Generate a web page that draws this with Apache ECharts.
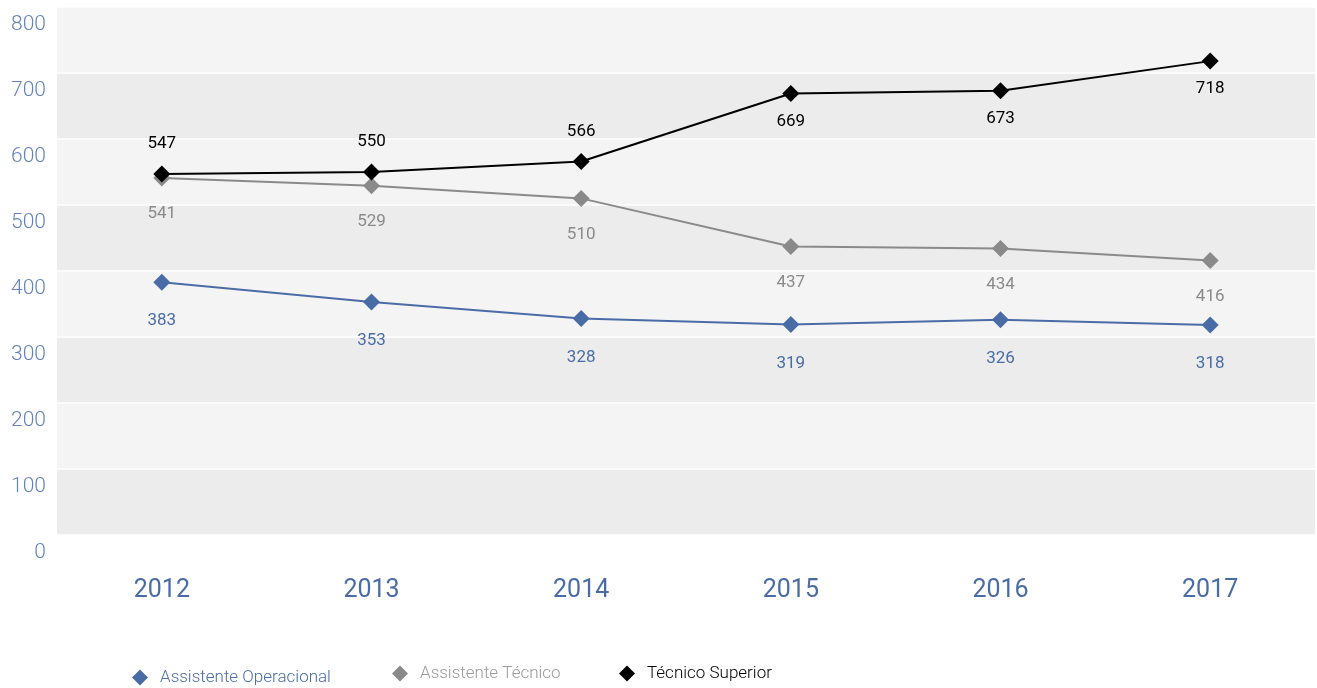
<!DOCTYPE html>
<html>
<head>
<meta charset="utf-8">
<script src="https://cdn.jsdelivr.net/npm/echarts@6/dist/echarts.min.js"></script>
<style>
  html, body { margin: 0; padding: 0; background: #ffffff; }
  #chart { width: 1317px; height: 688px; }
</style>
</head>
<body>
<div id="chart"></div>
<script>
// Years on the category axis
const years = ['2012', '2013', '2014', '2015', '2016', '2017'];

// Headcount per career group
const assistenteOperacional = [383, 353, 328, 319, 326, 318];
const assistenteTecnico = [541, 529, 510, 437, 434, 416];
const tecnicoSuperior = [547, 550, 566, 669, 673, 718];

// Value axis range and step
const yMin = 0;
const yMax = 800;
const yStep = 100;

const BLUE = '#4a6ca6';
const GREY = '#8a8a8a';
const BLACK = '#000000';
const FONT = 'Roboto, "DejaVu Sans", sans-serif';

const chart = echarts.init(document.getElementById('chart'), null, { renderer: 'canvas' });

function lineSeries(name, data, color, labelPos, labelDist) {
  return {
    name: name,
    type: 'line',
    data: data,
    symbol: 'diamond',
    symbolSize: 17,
    showAllSymbol: true,
    clip: false,
    lineStyle: { color: color, width: 2 },
    itemStyle: { color: color },
    label: {
      show: true,
      position: labelPos,
      distance: labelDist,
      color: color,
      fontFamily: FONT,
      fontSize: 17
    },
    emphasis: { disabled: true },
    animation: false
  };
}

function legendFor(name, left, top, color) {
  return {
    data: [{ name: name, icon: 'diamond' }],
    left: left,
    top: top,
    itemWidth: 16,
    itemHeight: 16,
    selectedMode: false,
    textStyle: {
      color: color,
      fontFamily: FONT,
      fontSize: 17,
      fontWeight: 300,
      padding: [0, 0, 0, 7]
    }
  };
}

// The top series keeps its labels above the early points and moves them
// below once the line climbs near the top of the plot.
const superior = lineSeries('Técnico Superior', tecnicoSuperior, BLACK, 'top', 13);
superior.data = tecnicoSuperior.map(function (v, i) {
  return i < 3 ? v : { value: v, label: { position: 'bottom', distance: 11 } };
});

chart.setOption({
  backgroundColor: '#ffffff',
  animation: false,
  grid: { left: 57, right: 2, top: 7, bottom: 153, containLabel: false },
  legend: [
    legendFor('Assistente Operacional', 127, 664, BLUE),
    legendFor('Assistente Técnico', 387, 660, '#9a9a9a'),
    legendFor('Técnico Superior', 614, 660, BLACK)
  ],
  xAxis: {
    type: 'category',
    data: years,
    boundaryGap: true,
    axisLine: { show: false },
    axisTick: { show: false },
    axisLabel: {
      color: BLUE,
      fontFamily: FONT,
      fontSize: 25,
      margin: 43
    }
  },
  yAxis: {
    type: 'value',
    min: yMin,
    max: yMax,
    interval: yStep,
    axisLine: { show: false },
    axisTick: { show: false },
    axisLabel: {
      color: '#6283bd',
      fontFamily: FONT,
      fontSize: 21,
      fontWeight: 300,
      margin: 11,
      verticalAlign: 'top',
      padding: [7, 0, 0, 0]
    },
    splitLine: { show: true, lineStyle: { color: '#ffffff', width: 1.5 } },
    splitArea: { show: true, areaStyle: { color: ['#ececec', '#f4f4f4'] } }
  },
  series: [
    lineSeries('Assistente Operacional', assistenteOperacional, BLUE, 'bottom', 22),
    lineSeries('Assistente Técnico', assistenteTecnico, GREY, 'bottom', 19),
    superior
  ]
});
</script>
</body>
</html>
